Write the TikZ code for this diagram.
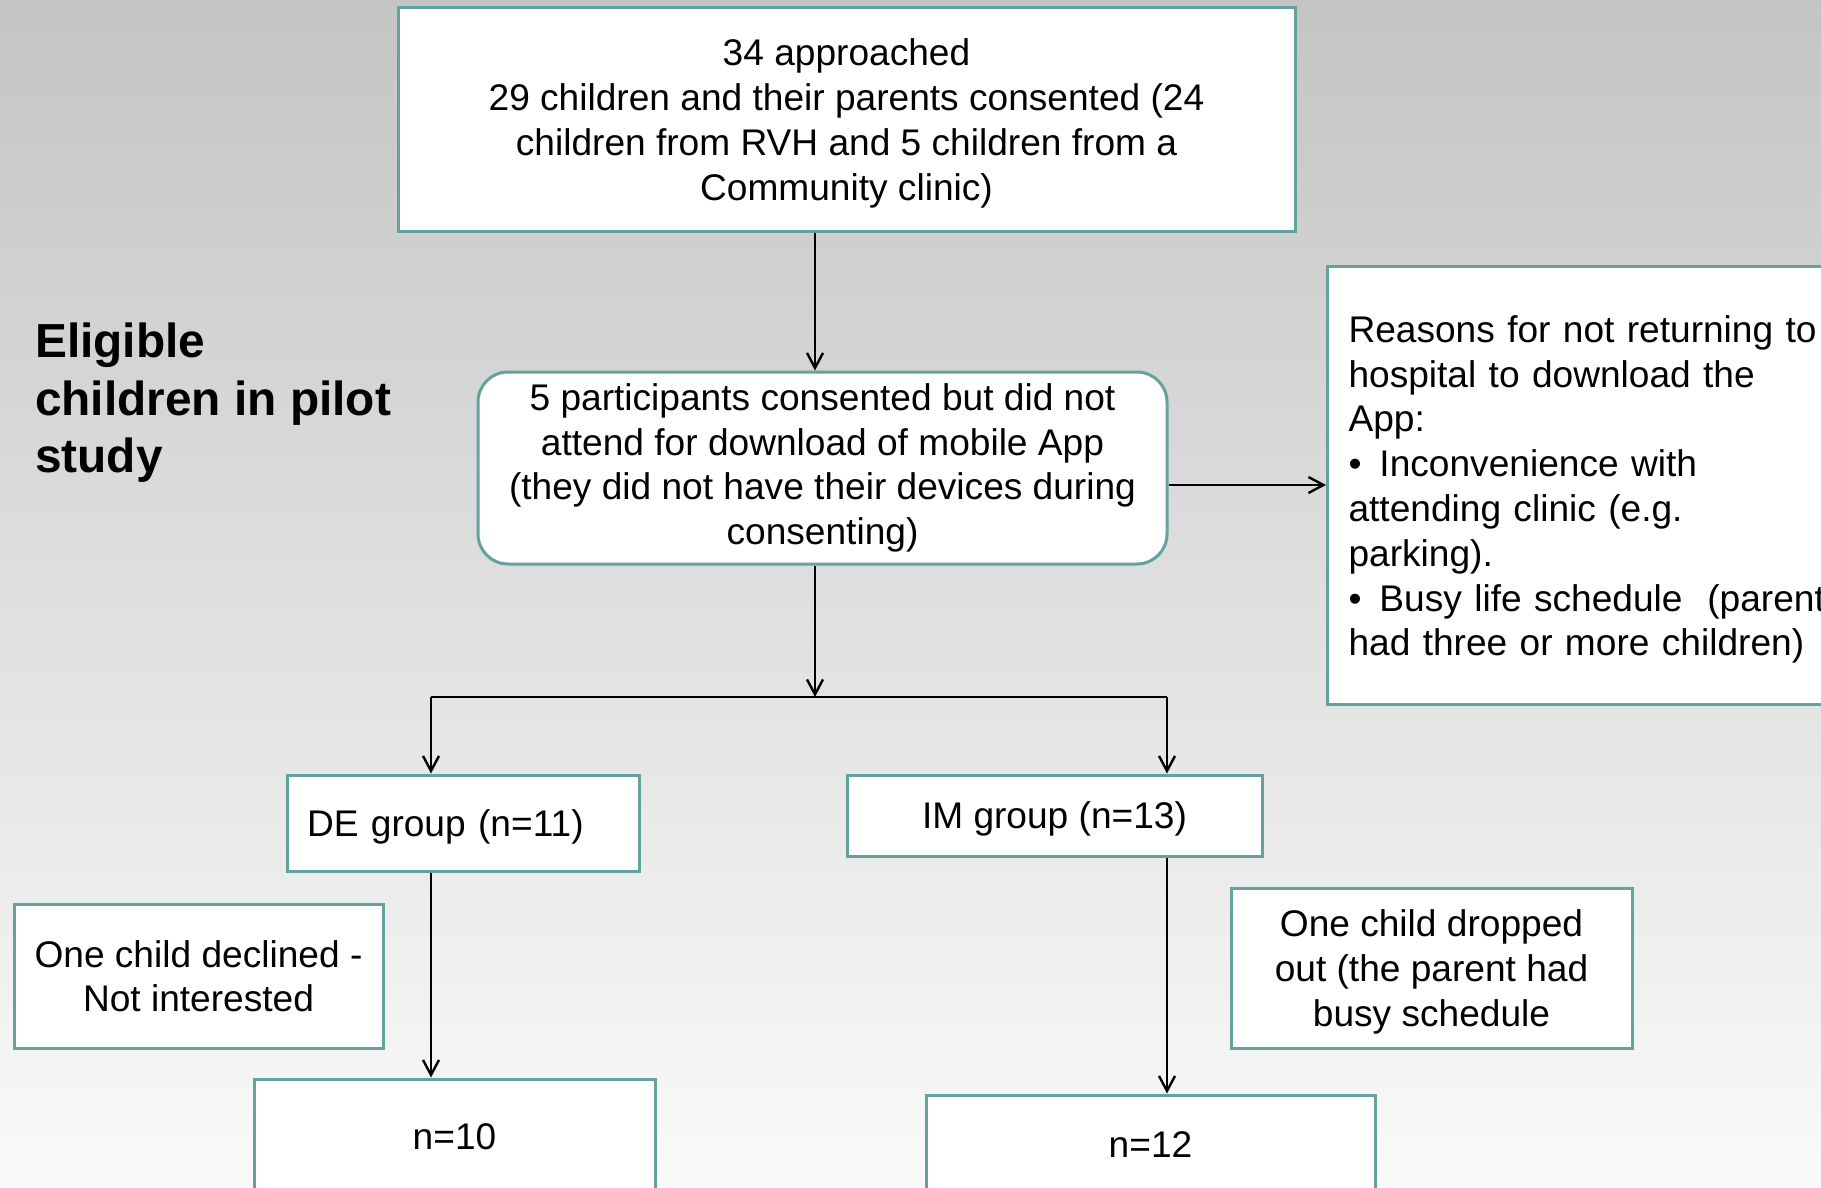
\documentclass[tikz,border=0pt]{standalone}
\usepackage{fontspec}
\setmainfont{Liberation Sans}
\usetikzlibrary{arrows.meta, positioning}
\definecolor{boxline}{RGB}{98,163,158}
\definecolor{bgtop}{RGB}{196,196,196}
\definecolor{bgbottom}{RGB}{250,250,250}

\begin{document}
\begin{tikzpicture}[
  x=1pt, y=-1pt,
  box/.style={rectangle, draw=boxline, line width=3pt, fill=white, align=center,
              inner sep=0pt, font=\fontsize{37.1}{44.8}\selectfont},
  roundbox/.style={box, rounded corners=30pt},
  leftbox/.style={box, align=left},
  arrow/.style={-{Straight Barb[length=15pt, width=16pt]}, line width=2.4pt, color=black},
  link/.style={line width=2.4pt, color=black},
  title/.style={font=\fontsize{47.8}{57.4}\selectfont\bfseries, align=left, inner sep=0pt}
]
  % page and background
  \useasboundingbox (0,0) rectangle (1821,1188);
  \shade[top color=bgtop, bottom color=bgbottom] (0,0) rectangle (1821,1188);

  \node[title, anchor=west] (eligible) at (35,403) {Eligible\\children in pilot\\study};

  \node[box, minimum width=897pt, minimum height=223pt, text depth=-4pt] (approached) at (846.5,119.5)
    {34 approached\\29 children and their parents consented (24\\children from RVH and 5 children from a\\Community clinic)};
  \node[roundbox, minimum width=689pt, minimum height=192pt] (notattend) at (822.5,468)
    {5 participants consented but did not\\attend for download of mobile App\\(they did not have their devices during\\consenting)};
  \node[leftbox, anchor=west, inner xsep=21pt, text width=520pt, text height=36pt, minimum height=438pt] (reasons) at (1326,485)
    {Reasons for not returning to\\hospital to download the\\App:\\
     •\hspace{18pt}Inconvenience with\\attending clinic (e.g.\\parking).\\
     •\hspace{18pt}Busy life schedule\ \ (parent\\had three or more children)};

  \node[leftbox, inner xsep=20pt, text width=312pt, text depth=-4pt, minimum height=96pt] (degroup) at (463,823) {DE group (n=11)};
  \node[box, minimum width=415pt, minimum height=81pt, text depth=-4pt] (imgroup) at (1054.5,815.5) {IM group (n=13)};

  \node[box, minimum width=369pt, minimum height=144pt, text depth=-5pt] (declined) at (198.5,976) {One child declined -\\Not interested};
  \node[box, minimum width=401pt, minimum height=160pt, text depth=-4pt] (dropped) at (1431.5,968) {One child dropped\\out (the parent had\\busy schedule};

  \node[box, minimum width=401pt, minimum height=121pt, text depth=5pt] (n10) at (454.5,1139.5) {n=10};
  \node[box, minimum width=449pt, minimum height=100pt] (n12) at (1150.5,1145) {n=12};

  % connector columns
  \coordinate (spine) at (815,0);
  \coordinate (leftx) at (431,0);
  \coordinate (rightx) at (1167,0);
  \coordinate (split) at (815,697);

  \draw[arrow] (approached.south -| spine) -- (notattend.north -| spine);
  \draw[arrow] (notattend.east |- reasons.west) -- (reasons.west);
  \draw[arrow] (notattend.south -| spine) -- (split);
  \draw[link] (split -| leftx) -- (split -| rightx);
  \draw[arrow] (split -| leftx) -- (degroup.north -| leftx);
  \draw[arrow] (split -| rightx) -- (imgroup.north -| rightx);
  \draw[arrow] (degroup.south -| leftx) -- (n10.north -| leftx);
  \draw[arrow] (imgroup.south -| rightx) -- (n12.north -| rightx);
\end{tikzpicture}
\end{document}
